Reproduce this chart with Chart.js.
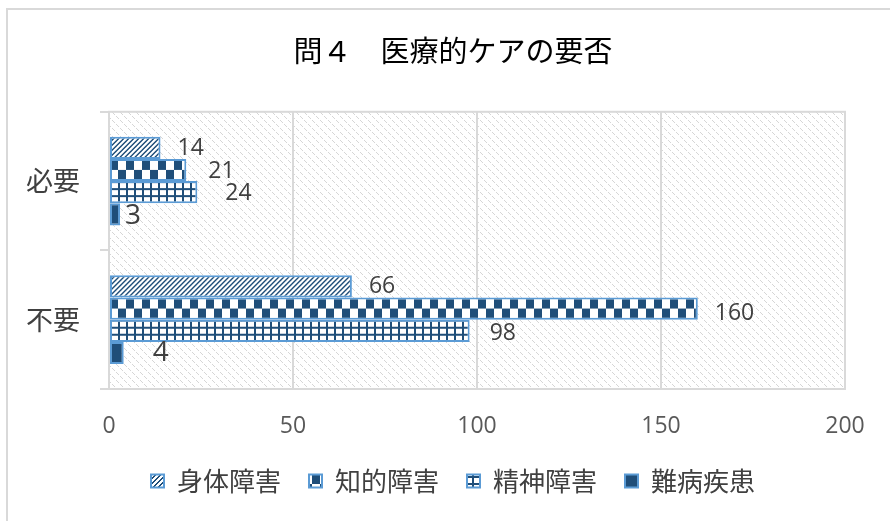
<!DOCTYPE html>
<html lang="ja">
<head>
<meta charset="utf-8">
<title>問４ 医療的ケアの要否</title>
<script src="https://cdn.jsdelivr.net/npm/chart.js@4.4.1/dist/chart.umd.min.js"></script>
<style>
  html, body { margin: 0; padding: 0; background: #fff; }
  #wrap { position: relative; width: 890px; height: 521px; overflow: hidden; }
  #frame { position: absolute; left: 6px; top: 8px; width: 960px; height: 600px;
           border: 2px solid #d9d9d9; box-sizing: border-box; }
  #chart { position: absolute; left: 0; top: 0; }
</style>
</head>
<body>
<div id="wrap">
  <div id="frame"></div>
  <canvas id="chart" width="890" height="521"></canvas>
</div>
<script>
const categories = ['必要', '不要'];
const seriesNames = ['身体障害', '知的障害', '精神障害', '難病疾患'];
const physical = [14, 66];
const intellectual = [21, 160];
const mental = [24, 98];
const intractable = [3, 4];
const xTicks = [0, 50, 100, 150, 200];

// label placement: gap after the bar end and vertical nudge, per series / category
const labelGap = [[17, 17], [22, 17], [28, 20], [5, 29]];
const labelShift = [[1, 0], [1, 5], [1, 3], [2, 0]];
const labelSize = [23, 23, 23, 28];

const DARK = '#1f4e79';
const EDGE = '#5b9bd5';
const GRID = '#d9d9d9';
const JP = '"Noto Sans CJK JP", "Noto Sans", sans-serif';
const NUM = '"Open Sans", "Noto Sans", sans-serif';

const canvas = document.getElementById('chart');
const ctx = canvas.getContext('2d');

const makeTile = (w, h, paint, bg = '#fff') => {
  const tile = document.createElement('canvas');
  tile.width = w;
  tile.height = h;
  const t = tile.getContext('2d');
  t.fillStyle = bg;
  t.fillRect(0, 0, w, h);
  paint(t);
  return tile;
};

const stripeTile = makeTile(5, 5, (t) => {
  t.fillStyle = DARK;
  for (let y = 0; y < 5; y++) {
    t.fillRect(4 - y, y, 1, 1);
    t.fillRect((5 - y) % 5, y, 1, 1);
  }
});
const checkerTile = makeTile(16, 22, (t) => {
  t.fillStyle = DARK;
  t.fillRect(0, 0, 8, 11);
  t.fillRect(8, 11, 8, 11);
});
const latticeTile = makeTile(8, 7, (t) => {
  t.fillStyle = DARK;
  t.fillRect(0, 0, 8, 2);
  t.fillRect(0, 0, 2, 7);
});
const hatch = ctx.createPattern(makeTile(8, 8, (t) => {
  t.fillStyle = '#d6d6d6';
  for (let i = 0; i < 8; i++) {
    if (i % 4 !== 3) t.fillRect(i, i, 1, 1);
  }
}), 'repeat');

// one pattern per bar so each can be pinned to its own corner
const perBar = (tile) => categories.map(() => ctx.createPattern(tile, 'repeat'));
const fills = [perBar(stripeTile), perBar(checkerTile), perBar(latticeTile), categories.map(() => DARK)];
const seriesValues = [physical, intellectual, mental, intractable];

// hatched plot area with a light frame
const plotBackdrop = {
  id: 'plotBackdrop',
  beforeDraw(chart) {
    const { ctx: c, chartArea: a } = chart;
    c.save();
    c.fillStyle = hatch;
    c.fillRect(a.left, a.top, a.right - a.left, a.bottom - a.top);
    c.restore();
  },
  beforeDatasetsDraw(chart) {
    const { ctx: c, chartArea: a } = chart;
    c.save();
    c.strokeStyle = GRID;
    c.lineWidth = 2;
    c.strokeRect(a.left, a.top, a.right - a.left, a.bottom - a.top);
    c.restore();
    chart.data.datasets.forEach((ds, i) => {
      chart.getDatasetMeta(i).data.forEach((bar, j) => {
        const fill = fills[i][j];
        if (fill instanceof CanvasPattern) {
          fill.setTransform(new DOMMatrix().translate(bar.base, bar.y - bar.height / 2));
        }
      });
    });
  },
};

const valueLabels = {
  id: 'valueLabels',
  afterDatasetsDraw(chart) {
    const c = chart.ctx;
    c.save();
    c.textBaseline = 'middle';
    c.textAlign = 'left';
    c.fillStyle = '#404040';
    chart.data.datasets.forEach((ds, i) => {
      c.font = `${labelSize[i]}px ${NUM}`;
      chart.getDatasetMeta(i).data.forEach((bar, j) => {
        c.fillText(String(ds.data[j]), bar.x + labelGap[i][j], bar.y + labelShift[i][j]);
      });
    });
    c.restore();
  },
};

new Chart(ctx, {
  type: 'bar',
  data: {
    labels: categories,
    datasets: seriesNames.map((name, i) => ({
      label: name,
      data: seriesValues[i],
      backgroundColor: (context) => fills[i][context.dataIndex ?? 0],
      borderColor: EDGE,
      borderWidth: 2,
      borderSkipped: false,
      barPercentage: 1,
      categoryPercentage: 0.64,
    })),
  },
  options: {
    indexAxis: 'y',
    responsive: false,
    animation: false,
    devicePixelRatio: 1,
    layout: { padding: { left: 25, right: 9, top: 0, bottom: 17 } },
    plugins: {
      title: {
        display: true,
        text: '問４　医療的ケアの要否',
        color: '#000',
        font: { family: JP, size: 29, weight: 'normal' },
        padding: { top: 34, bottom: 43 },
      },
      legend: {
        position: 'bottom',
        labels: {
          color: '#404040',
          font: { family: JP, size: 26 },
          boxWidth: 13,
          boxHeight: 13,
          padding: 28,
        },
      },
      tooltip: { enabled: false },
    },
    scales: {
      x: {
        min: 0,
        max: 200,
        afterBuildTicks: (scale) => {
          scale.ticks = xTicks.map((value) => ({ value }));
        },
        afterFit: (scale) => {
          scale.height = 51;
          scale.paddingRight = 45;
        },
        grid: { color: GRID, lineWidth: 2, drawTicks: false },
        border: { color: GRID, width: 2 },
        ticks: { color: '#595959', font: { family: NUM, size: 23 }, padding: 24 },
      },
      y: {
        afterFit: (scale) => {
          scale.width = 84;
        },
        grid: { color: GRID, lineWidth: 2, drawOnChartArea: false, tickLength: 9, offset: true },
        border: { color: GRID, width: 2 },
        ticks: { color: '#404040', font: { family: JP, size: 27 }, padding: 20 },
      },
    },
  },
  plugins: [plotBackdrop, valueLabels],
});
</script>
</body>
</html>
